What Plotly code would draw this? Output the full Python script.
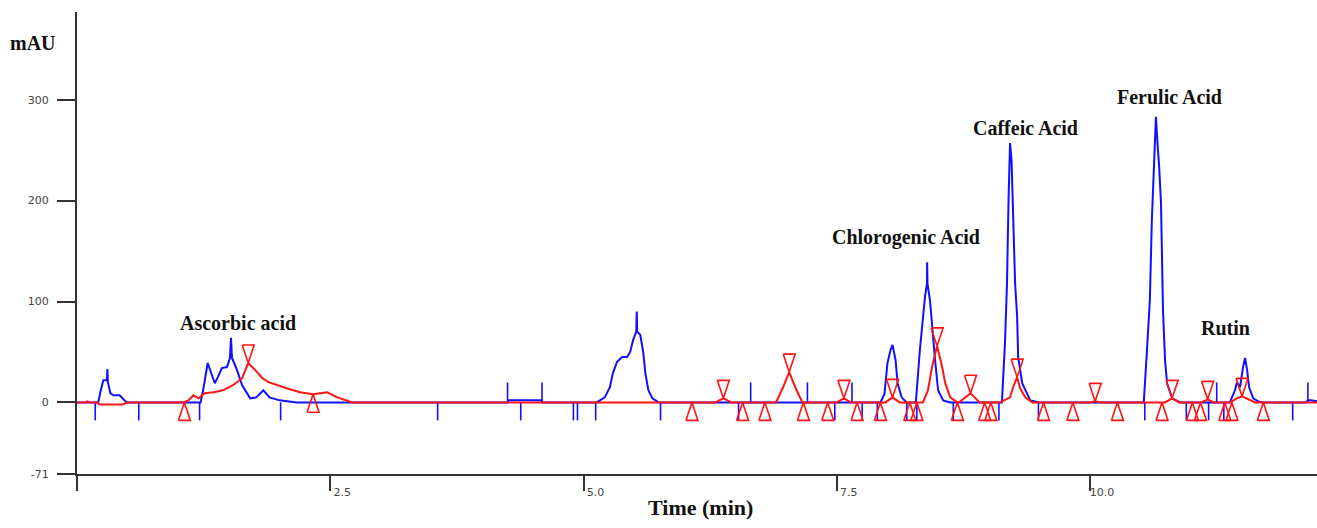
import plotly.graph_objects as go

# ---- chromatogram data (time in min, absorbance in mAU) ----
blue_t = [0.00, 0.21, 0.23, 0.26, 0.28, 0.295, 0.30, 0.305, 0.33, 0.36, 0.42, 0.46, 0.49,
          1.22, 1.25, 1.29, 1.32, 1.36, 1.39, 1.43, 1.48, 1.51, 1.52, 1.53, 1.58, 1.63, 1.71,
          1.77, 1.84, 1.90, 2.00, 2.17,
          4.25, 4.26, 4.58, 4.59,
          5.13, 5.21, 5.26, 5.29, 5.33, 5.38, 5.43, 5.46, 5.49, 5.52, 5.525, 5.53, 5.56, 5.59,
          5.61, 5.64, 5.68, 5.74,
          7.93, 7.97, 8.00, 8.03, 8.05, 8.08, 8.10, 8.14, 8.19,
          8.28, 8.32, 8.35, 8.37, 8.39, 8.392, 8.395, 8.42, 8.44, 8.47, 8.50, 8.55, 8.62,
          9.13, 9.16, 9.18, 9.195, 9.21, 9.225, 9.24, 9.26, 9.28, 9.29, 9.33, 9.41, 9.50,
          10.53, 10.56, 10.59, 10.61, 10.63, 10.65, 10.67, 10.68, 10.70, 10.71, 10.72, 10.74,
          10.76, 10.81, 10.89,
          11.38, 11.43, 11.45, 11.48, 11.51, 11.53, 11.55, 11.57, 11.61, 11.66, 11.70,
          12.13, 12.15, 12.18, 12.24]
blue_v = [0, 0, 10, 22, 22, 22, 33, 20, 9, 7, 7, 3, 0,
          0, 15, 39, 30, 19, 25, 34, 35, 44, 64, 44, 32, 17, 4,
          5, 12, 5, 2, 0,
          0, 2, 2, 0,
          0, 5, 15, 29, 40, 45, 45, 50, 62, 70, 90, 70, 67, 49,
          29, 12, 4, 0,
          0, 8, 39, 52, 57, 42, 19, 5, 0,
          0, 52, 85, 104, 118, 139, 118, 101, 75, 42, 12, 2, 0,
          0, 59, 118, 200, 257, 240, 180, 118, 85, 45, 19, 2, 0,
          0, 49, 101, 181, 240, 283, 250, 237, 198, 141, 91, 42,
          19, 4, 0,
          0, 12, 20, 15, 35, 44, 32, 15, 4, 1, 0,
          0, 2, 2, 1]

red_t = [0.00, 0.08, 0.10, 0.12, 0.20, 0.22, 0.45, 0.50,
         1.05, 1.10, 1.15, 1.20, 1.26, 1.35, 1.44, 1.54, 1.63, 1.69, 1.76, 1.83, 1.89, 1.97,
         2.07, 2.20, 2.33, 2.47, 2.57, 2.72,
         6.30, 6.38, 6.46,
         6.90, 6.97, 7.03, 7.09, 7.16,
         7.50, 7.57, 7.64,
         7.98, 8.05, 8.12,
         8.35, 8.40, 8.44, 8.49, 8.54, 8.57, 8.62, 8.69,
         8.72, 8.82, 8.91,
         9.11, 9.21, 9.24, 9.28, 9.31, 9.36, 9.43,
         10.00, 10.05, 10.10,
         10.74, 10.81, 10.88,
         11.10, 11.16, 11.22,
         11.38, 11.45, 11.50, 11.56, 11.63,
         12.24]
red_v = [0, 0, 1, 0, 0, -2, -2, 0,
         0, 2, 7, 4, 9, 10, 12, 17, 24, 39, 32, 24, 20, 17,
         14, 10, 8, 10, 5, 0,
         0, 4, 0,
         0, 15, 30, 15, 0,
         0, 4, 0,
         0, 5, 0,
         0, 12, 35, 56, 35, 19, 5, 0,
         1, 9, 0,
         0, 5, 15, 25, 14, 5, 0,
         0, 1, 0,
         0, 4, 0,
         0, 3, 0,
         0, 4, 6, 3, 0,
         0]

# integration events on the blue trace
blue_drop_t = [0.18, 0.61, 1.21, 2.01, 3.56, 4.38, 4.90, 4.94, 5.12, 5.76, 6.53, 7.48,
               7.75, 7.90, 8.19, 8.29, 8.65, 9.10, 9.49, 10.54, 10.95, 11.17, 11.32, 12.00]
blue_rise_t = [4.25, 4.59, 6.65, 7.21, 7.65, 11.25, 12.15]

# peak-apex and peak-boundary markers on the red trace
red_apex_t = [1.69, 6.38, 7.03, 7.57, 8.05, 8.49, 8.82, 9.28, 10.05, 10.81, 11.16, 11.50]
red_apex_v = [39, 4, 30, 4, 5, 56, 9, 25, 1, 4, 3, 6]
red_base_t = [1.06, 2.33, 6.07, 6.57, 6.79, 7.17, 7.41, 7.70, 7.93, 8.22, 8.29, 8.69,
              8.96, 9.02, 9.54, 9.83, 10.27, 10.71, 11.01, 11.09, 11.33, 11.40, 11.71]
red_base_v = [0, 8, 0, 0, 0, 0, 0, 0, 0, 0, 0, 0,
              0, 0, 0, 0, 0, 0, 0, 0, 0, 0, 0]

peak_names = ["Ascorbic acid", "Chlorogenic Acid", "Caffeic Acid", "Ferulic Acid", "Rutin"]
peak_label_t = [1.59, 8.18, 9.36, 10.78, 11.34]
peak_label_v = [79, 163, 272, 303, 74]

y_tick_vals = [-71, 0, 100, 200, 300]
y_tick_text = ["-71", "0", "100", "200", "300"]
x_tick_vals = [0, 2.5, 5.0, 7.5, 10.0]
x_tick_text = ["", "2.5", "5.0", "7.5", "10.0"]

# ---- geometry ----
W, H = 1317, 528
ML, MR, MT, MB = 77, 0, 12, 54
X_RANGE = [0, 12.24]
Y_RANGE = [-71, 387]
px_per_min = (W - ML - MR) / (X_RANGE[1] - X_RANGE[0])
px_per_mau = (H - MT - MB) / (Y_RANGE[1] - Y_RANGE[0])

BLUE = "#1010ff"
RED = "#ff1414"


def event_ticks(times, length_px):
    xs, ys = [], []
    for t in times:
        xs += [t, t, None]
        ys += [0, length_px / px_per_mau, None]
    return xs, ys


def triangles(times, vals, pointing_down):
    hw = 6 / px_per_min
    h = 18 / px_per_mau
    xs, ys = [], []
    for t, v in zip(times, vals):
        body = v + h if pointing_down else v - h
        xs += [t - hw, t + hw, t, t - hw, None]
        ys += [body, body, v, body, None]
    return xs, ys


fig = go.Figure()

fig.add_trace(go.Scatter(x=blue_t, y=blue_v, mode="lines",
                         line=dict(color=BLUE, width=2), hoverinfo="skip"))
dx, dy = event_ticks(blue_drop_t, -18)
fig.add_trace(go.Scatter(x=dx, y=dy, mode="lines",
                         line=dict(color=BLUE, width=1.6), hoverinfo="skip"))
ux, uy = event_ticks(blue_rise_t, 20)
fig.add_trace(go.Scatter(x=ux, y=uy, mode="lines",
                         line=dict(color=BLUE, width=1.6), hoverinfo="skip"))

fig.add_trace(go.Scatter(x=red_t, y=red_v, mode="lines",
                         line=dict(color=RED, width=2), hoverinfo="skip"))
ax_, ay_ = triangles(red_apex_t, red_apex_v, True)
fig.add_trace(go.Scatter(x=ax_, y=ay_, mode="lines",
                         line=dict(color=RED, width=1.6), hoverinfo="skip"))
bx_, by_ = triangles(red_base_t, red_base_v, False)
fig.add_trace(go.Scatter(x=bx_, y=by_, mode="lines",
                         line=dict(color=RED, width=1.6), hoverinfo="skip"))

serif = "Liberation Serif, Times New Roman, serif"
for name, t, v in zip(peak_names, peak_label_t, peak_label_v):
    fig.add_annotation(x=t, y=v, xref="x", yref="y", text=f"<b>{name}</b>",
                       showarrow=False, font=dict(family=serif, size=20, color="#111"))


def paper_x(px):
    return (px - ML) / (W - ML - MR)


def paper_y(py):
    return (H - MB - py) / (H - MT - MB)


fig.add_annotation(x=paper_x(8), y=paper_y(43), xref="paper", yref="paper",
                   xanchor="left", yanchor="middle", text="<b>mAU</b>", showarrow=False,
                   font=dict(family=serif, size=20, color="#111"))
fig.add_annotation(x=paper_x(700), y=paper_y(507), xref="paper", yref="paper",
                   xanchor="center", yanchor="middle", text="<b>Time (min)</b>",
                   showarrow=False, font=dict(family=serif, size=22, color="#111"))

tick_font = dict(family="DejaVu Sans, Arial, sans-serif", size=11, color="#444")

fig.update_layout(
    width=W, height=H,
    margin=dict(l=ML, r=MR, t=MT, b=MB),
    paper_bgcolor="white", plot_bgcolor="white",
    showlegend=False,
    xaxis=dict(range=X_RANGE, showgrid=False, zeroline=False,
               showline=True, linecolor="#333", linewidth=2,
               ticks="outside", ticklen=15, tickwidth=1.5, tickcolor="#333",
               tickvals=x_tick_vals, ticktext=x_tick_text,
               ticklabelshift=12, ticklabelstandoff=-8,
               tickfont=tick_font),
    yaxis=dict(range=Y_RANGE, showgrid=False, zeroline=False,
               showline=True, linecolor="#333", linewidth=2,
               ticks="outside", ticklen=18, tickwidth=1.5, tickcolor="#333",
               tickvals=y_tick_vals, ticktext=y_tick_text,
               ticklabelstandoff=6,
               tickfont=tick_font),
)

fig.write_html("out.html")
